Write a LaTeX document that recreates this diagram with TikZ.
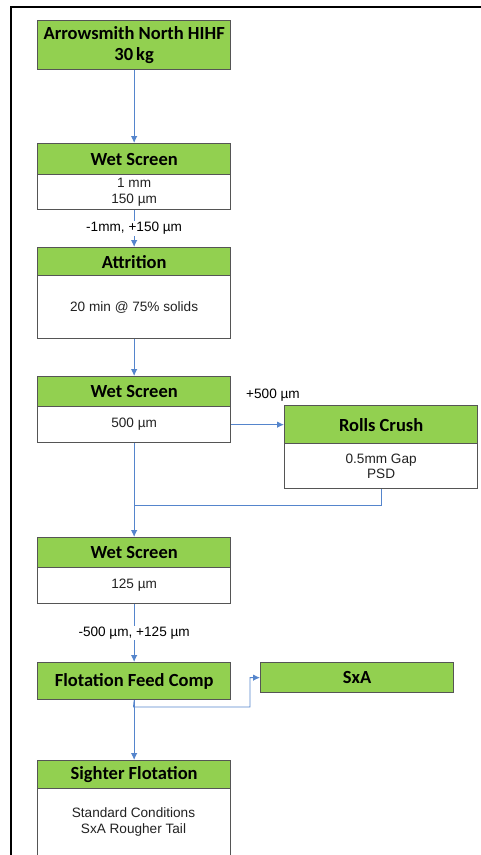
\documentclass[tikz,border=0pt]{standalone}
\usepackage{fontspec}
\setmainfont{Liberation Sans}
\newfontfamily\hdrfam{Carlito}
\usetikzlibrary{arrows.meta}
\definecolor{grn}{HTML}{92D050}
\definecolor{boxc}{HTML}{555555}
\definecolor{flowc}{HTML}{5585CC}
\definecolor{txtc}{HTML}{222222}
\begin{document}
\begin{tikzpicture}[x=1pt,y=-1pt,
  hdr/.style={draw=boxc, fill=grn, line width=1.3pt, minimum width=193pt, inner sep=0pt,
    font=\hdrfam\bfseries\fontsize{18.5}{21}\selectfont, align=center, anchor=north west, text=black},
  bdy/.style={draw=boxc, fill=white, line width=1.3pt, minimum width=193pt, inner sep=0pt,
    font=\fontsize{13.6}{15.5}\selectfont, align=center, anchor=north west, text=txtc},
  flowline/.style={draw=flowc, line width=0.9pt},
  flow/.style={flowline, -{Latex[length=7pt,width=6.5pt]}},
  lbl/.style={font=\fontsize{13.6}{15.5}\selectfont, inner sep=1pt, text=black}
]
\useasboundingbox (0,0) rectangle (481,855);
\clip (0,0) rectangle (481,855);
% frame
\draw[line width=1.6pt] (11,870) -- (11,7) -- (495,7);
% boxes
\node[hdr, minimum height=49pt] (a) at (37,20) {Arrowsmith North HIHF\\30\,kg};
\node[hdr, minimum height=31pt] (ws1h) at (37,143) {Wet Screen};
\node[bdy, minimum height=35pt] (ws1b) at (37,174) {1 mm\\150 µm};
\node[hdr, minimum height=28pt] (atth) at (37,247) {Attrition};
\node[bdy, minimum height=63pt] (attb) at (37,275) {20 min @ 75\% solids};
\node[hdr, minimum height=30pt] (ws2h) at (37,376) {Wet Screen};
\node[bdy, minimum height=36pt] (ws2b) at (37,406) {500 µm};
\node[hdr, minimum height=38pt] (rch) at (284,405) {Rolls Crush};
\node[bdy, minimum height=45pt] (rcb) at (284,443) {0.5mm Gap\\PSD};
\node[hdr, minimum height=30pt] (ws3h) at (37,537) {Wet Screen};
\node[bdy, minimum height=36pt] (ws3b) at (37,567) {125 µm};
\node[hdr, minimum height=37pt] (ffc) at (37,662) {Flotation Feed Comp};
\node[hdr, minimum height=30pt] (sxa) at (260,662) {SxA};
\node[hdr, minimum height=28pt] (sfh) at (37,760) {Sighter Flotation};
\node[bdy, minimum height=90pt, text depth=0pt] (sfb) at (37,788) {};
\node[lbl, align=center, text=txtc] (sft) at (133.5,822) {Standard Conditions\\SxA Rougher Tail};
% connectors
\draw[flow] (a.south) -- (ws1h.north);
\draw[flow] (ws1b.south) -- node[lbl, fill=white] (l1) {-1mm, +150 µm} (atth.north);
\draw[flow] (attb.south) -- (ws2h.north);
\draw[flow] (ws2b.east) -- (rch.west);
\node[lbl] (l2) at (273,395) {+500 µm};
\coordinate (m) at (133.5,505);
\draw[flowline] (rcb.south) |- (m);
\draw[flow] (ws2b.south) -- (ws3h.north);
\draw[flow] (ws3b.south) -- node[lbl, fill=white] (l3) {-500 µm, +125 µm} (ffc.north);
\draw[flow] (ffc.south) -- (sfh.north);
\coordinate (k0) at (133.5,707);
\coordinate (k1) at (250,707);
\draw[flow] (ffc.south) -- (k0) -- (k1) |- (sxa.west);
\end{tikzpicture}
\end{document}
